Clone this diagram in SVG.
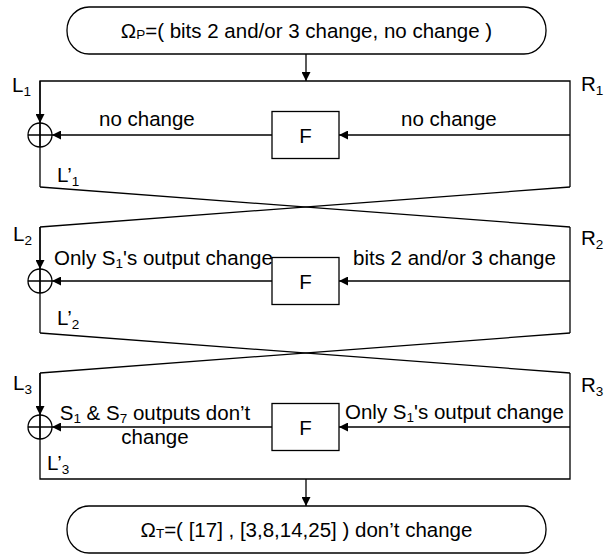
<svg xmlns="http://www.w3.org/2000/svg" width="607" height="555" viewBox="0 0 607 555">
  <style>
    .ln { fill: none; stroke: #000; stroke-width: 1.3; }
    .box { fill: #fff; stroke: #000; stroke-width: 1.3; }
    text { font-family: "Liberation Sans", Arial, sans-serif; font-size: 20.5px; fill: #000; }
    .sub { font-size: 13.5px; }
  </style>
  <defs>
    <marker id="arr" viewBox="0 0 10 10" refX="10" refY="5" markerWidth="10" markerHeight="9" markerUnits="userSpaceOnUse" orient="auto">
      <path d="M0,0 L10,5 L0,10 z" fill="#000"/>
    </marker>
  </defs>

  <!-- input difference -->
  <g id="input">
    <rect class="box" x="67" y="7" width="479" height="47" rx="22" ry="23"/>
    <text x="306.5" y="38" text-anchor="middle">Ω<tspan class="sub" dy="1">P</tspan><tspan dy="-1">=( bits 2 and/or 3 change, no change )</tspan></text>
  </g>

  <!-- output difference -->
  <g id="output">
    <rect class="box" x="67" y="506" width="479" height="47" rx="22" ry="23"/>
    <text x="306.5" y="537" text-anchor="middle">Ω<tspan class="sub" dy="1">T</tspan><tspan dy="-1">=( [17] , [3,8,14,25] ) don’t change</tspan></text>
  </g>

  <!-- wiring: rounds, crossings and arrows -->
  <g id="connectors">
    <line class="ln" x1="306" y1="54" x2="306" y2="81" marker-end="url(#arr)"/>
    <!-- round 1 -->
    <polyline class="ln" points="40,187 40,81 570,81 570,187"/>
    <line class="ln" x1="40" y1="81" x2="40" y2="123" marker-end="url(#arr)"/>
    <line class="ln" x1="570" y1="135" x2="339" y2="135" marker-end="url(#arr)"/>
    <line class="ln" x1="272" y1="135" x2="52" y2="135" marker-end="url(#arr)"/>
    <!-- swap 1 -->
    <line class="ln" x1="40" y1="187" x2="570" y2="227"/>
    <line class="ln" x1="570" y1="187" x2="40" y2="227"/>
    <!-- round 2 -->
    <line class="ln" x1="40" y1="227" x2="40" y2="333"/>
    <line class="ln" x1="570" y1="227" x2="570" y2="333"/>
    <line class="ln" x1="40" y1="227" x2="40" y2="269" marker-end="url(#arr)"/>
    <line class="ln" x1="570" y1="281" x2="339" y2="281" marker-end="url(#arr)"/>
    <line class="ln" x1="272" y1="281" x2="52" y2="281" marker-end="url(#arr)"/>
    <!-- swap 2 -->
    <line class="ln" x1="40" y1="333" x2="570" y2="373"/>
    <line class="ln" x1="570" y1="333" x2="40" y2="373"/>
    <!-- round 3 -->
    <polyline class="ln" points="40,373 40,479 570,479 570,373"/>
    <line class="ln" x1="40" y1="373" x2="40" y2="415" marker-end="url(#arr)"/>
    <line class="ln" x1="570" y1="427" x2="339" y2="427" marker-end="url(#arr)"/>
    <line class="ln" x1="272" y1="427" x2="52" y2="427" marker-end="url(#arr)"/>
    <line class="ln" x1="306" y1="479" x2="306" y2="506" marker-end="url(#arr)"/>
  </g>

  <!-- XOR nodes -->
  <g id="xor1">
    <circle class="ln" cx="40" cy="135" r="12"/>
    <path class="ln" d="M28,135 H52 M40,123 V147"/>
  </g>
  <g id="xor2">
    <circle class="ln" cx="40" cy="281" r="12"/>
    <path class="ln" d="M28,281 H52 M40,269 V293"/>
  </g>
  <g id="xor3">
    <circle class="ln" cx="40" cy="427" r="12"/>
    <path class="ln" d="M28,427 H52 M40,415 V439"/>
  </g>

  <!-- round functions -->
  <g id="f1">
    <rect class="box" x="272" y="111.5" width="67" height="47"/>
    <text x="305.5" y="142.5" text-anchor="middle">F</text>
  </g>
  <g id="f2">
    <rect class="box" x="272" y="257.5" width="67" height="47"/>
    <text x="305.5" y="288.5" text-anchor="middle">F</text>
  </g>
  <g id="f3">
    <rect class="box" x="272" y="403.5" width="67" height="47"/>
    <text x="305.5" y="434.5" text-anchor="middle">F</text>
  </g>

  <!-- half labels -->
  <g id="labels">
    <text x="12" y="92">L<tspan class="sub" dy="4">1</tspan></text>
    <text x="581" y="91">R<tspan class="sub" dy="4">1</tspan></text>
    <text x="57" y="182">L’<tspan class="sub" dy="4">1</tspan></text>
    <text x="13" y="241">L<tspan class="sub" dy="4">2</tspan></text>
    <text x="581" y="245">R<tspan class="sub" dy="4">2</tspan></text>
    <text x="57" y="325">L’<tspan class="sub" dy="4">2</tspan></text>
    <text x="13" y="390">L<tspan class="sub" dy="4">3</tspan></text>
    <text x="581" y="392">R<tspan class="sub" dy="4">3</tspan></text>
    <text x="47" y="470">L’<tspan class="sub" dy="4">3</tspan></text>
  </g>

  <!-- difference annotations -->
  <g id="notes">
    <text x="99" y="126">no change</text>
    <text x="401" y="126">no change</text>
    <text x="54" y="265">Only S<tspan class="sub" dy="3">1</tspan><tspan dy="-3">'s output change</tspan></text>
    <text x="353" y="265">bits 2 and/or 3 change</text>
    <text x="155" y="420" text-anchor="middle">S<tspan class="sub" dy="3">1</tspan><tspan dy="-3"> &amp; S</tspan><tspan class="sub" dy="3">7</tspan><tspan dy="-3"> outputs don’t</tspan></text>
    <text x="155" y="444" text-anchor="middle">change</text>
    <text x="345" y="419">Only S<tspan class="sub" dy="3">1</tspan><tspan dy="-3">'s output change</tspan></text>
  </g>
</svg>
